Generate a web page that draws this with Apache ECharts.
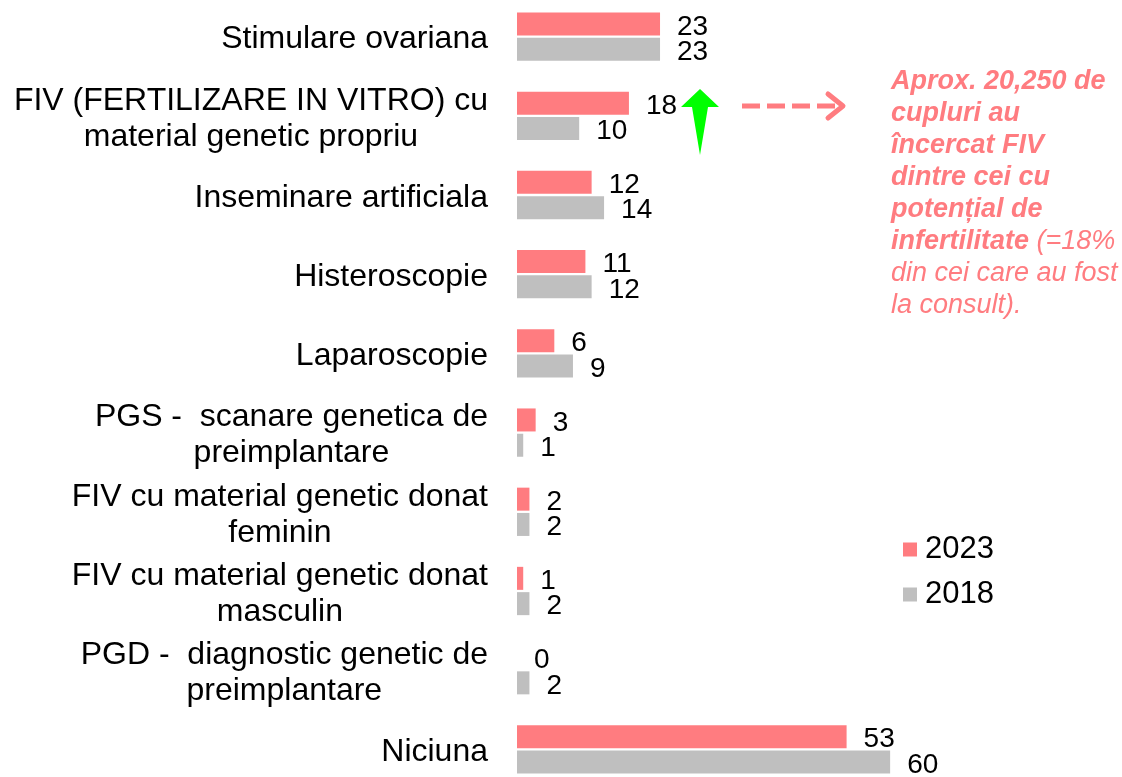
<!DOCTYPE html>
<html>
<head>
<meta charset="utf-8">
<script src="https://cdn.jsdelivr.net/npm/echarts@6/dist/echarts.min.js"></script>
<style>
    html, body {margin: 0; padding: 0; background: #fff; overflow: hidden;}
    /* containerul e mutat cu 3px in sus ca benzile sa cada ca in original */
    #chart {width: 1122px; height: 795px; margin-top: -3px;}
</style>
</head>
<body>
<div id="chart"></div>
<script>
    // categorii (de sus in jos)
    const categories = [
        'Stimulare ovariana',
        'FIV (FERTILIZARE IN VITRO) cu\nmaterial genetic propriu',
        'Inseminare artificiala',
        'Histeroscopie',
        'Laparoscopie',
        'PGS -  scanare genetica de\npreimplantare',
        'FIV cu material genetic donat\nfeminin',
        'FIV cu material genetic donat\nmasculin',
        'PGD -  diagnostic genetic de\npreimplantare',
        'Niciuna'
    ];
    const seriesNames = ['2023', '2018'];
    const values2023 = [23, 18, 12, 11, 6, 3, 2, 1, 0, 53];
    const values2018 = [23, 10, 14, 12, 9, 1, 2, 2, 2, 60];

    const font = "'Liberation Sans', Arial, sans-serif";
    const pink = '#FF7C80';
    const grey = '#BFBFBF';
    const dy = 3; // decalajul containerului

    let myChart = echarts.init(document.getElementById('chart'));

    //eticheta valorii din dreapta barei
    const valueLabel = {
        show: true,
        position: 'right',
        distance: 17,
        offset: [0, 3],
        color: '#000',
        fontSize: 28,
        fontFamily: font
    };

    let option = {
        animation: false,
        backgroundColor: '#fff',
        grid: {left: 517, top: 0, width: 597, height: 792},
        legend: {
            orient: 'vertical',
            left: 903,
            top: 534 + dy,
            padding: 0,
            itemWidth: 14,
            itemHeight: 14,
            itemGap: 14,
            icon: 'rect',
            data: seriesNames,
            textStyle: {fontSize: 31, lineHeight: 31, fontFamily: font, color: '#000', padding: [0, 0, 0, 3]}
        },
        xAxis: {
            type: 'value',
            min: 0,
            max: 96,
            show: false,
            splitLine: {show: false}
        },
        yAxis: {
            type: 'category',
            inverse: true,
            data: categories,
            axisLine: {show: false},
            axisTick: {show: false},
            axisLabel: {
                margin: 29,
                align: 'right',
                padding: [6, 0, 0, 0],
                //fiecare rand centrat in bloc, blocul aliniat la dreapta
                formatter: v => v.split('\n').map(s => '{c|' + s + '}').join('\n'),
                rich: {
                    c: {align: 'center', fontSize: 32, lineHeight: 36, fontFamily: font, color: '#000'}
                }
            }
        },
        series: [
            {
                name: seriesNames[0],
                type: 'bar',
                data: values2023,
                barWidth: 23,
                barGap: '10%',
                itemStyle: {color: pink},
                label: valueLabel
            },
            {
                name: seriesNames[1],
                type: 'bar',
                data: values2018,
                barWidth: 23,
                barGap: '10%',
                itemStyle: {color: grey},
                label: valueLabel
            }
        ],
        graphic: [
            //sageata verde
            {
                type: 'polygon',
                shape: {points: [[700, 89 + dy], [681, 107 + dy], [692, 107 + dy], [700, 155 + dy], [708, 107 + dy], [719, 107 + dy]]},
                style: {fill: '#00FF00'}
            },
            //sageata punctata
            {
                type: 'line',
                shape: {x1: 742, y1: 106 + dy, x2: 838, y2: 106 + dy},
                style: {stroke: pink, lineWidth: 5, lineDash: [18, 7]}
            },
            {
                type: 'polyline',
                shape: {points: [[828, 94 + dy], [843, 106 + dy], [828, 118 + dy]]},
                style: {stroke: pink, lineWidth: 5, lineCap: 'round', lineJoin: 'round', fill: null}
            },
            //textul explicativ
            {
                type: 'text',
                left: 891,
                top: 68 + dy,
                style: {
                    text: [
                        '{b|Aprox. 20,250 de}',
                        '{b|cupluri au}',
                        '{b|încercat FIV}',
                        '{b|dintre cei cu}',
                        '{b|potențial de}',
                        '{b|infertilitate}{n| (=18%}',
                        '{n|din cei care au fost}',
                        '{n|la consult).}'
                    ].join('\n'),
                    rich: {
                        b: {fontSize: 27, fontWeight: 'bold', fontStyle: 'italic', fontFamily: font, fill: pink, lineHeight: 32},
                        n: {fontSize: 27, fontStyle: 'italic', fontFamily: font, fill: pink, lineHeight: 32}
                    }
                }
            }
        ]
    };

    myChart.setOption(option);
</script>
</body>
</html>
